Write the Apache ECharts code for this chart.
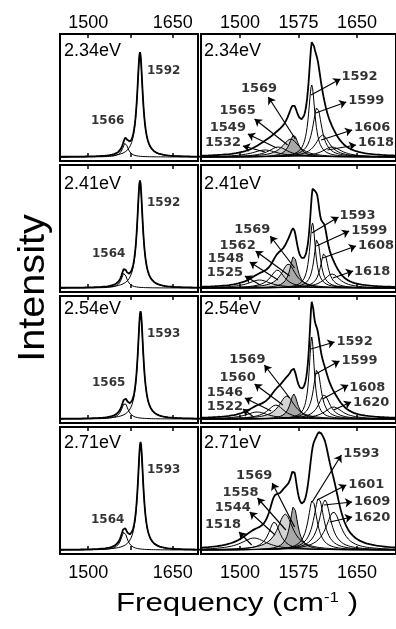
<!DOCTYPE html>
<html>
<head>
<meta charset="utf-8">
<script src="https://cdn.jsdelivr.net/npm/echarts@6/dist/echarts.min.js"></script>
<style>
html, body { margin: 0; padding: 0; background: #fff; }
#chart { width: 396px; height: 629px; }
</style>
</head>
<body>
<div id="chart"></div>
<script>
var energies = ['2.34eV', '2.41eV', '2.54eV', '2.71eV'];
var freqTicks = [1500, 1575, 1650];
var leftTickLabels = [1500, 1650];
var rightTickLabels = [1500, 1575, 1650];

// left column: two lorentzian fits per excitation energy (center, height, fwhm)
var leftCenters = [[1566, 1592], [1564, 1592], [1565, 1593], [1564, 1593]];
var leftHeights = [[14, 104], [15, 107], [16, 107], [18, 107]];
var leftWidths = [[12, 12], [12, 12], [14, 12], [14, 12]];

// right column: eight components, #2 light grey, #3 dark grey
var rightCenters = [
  [1532, 1549, 1565, 1569, 1592, 1599, 1606, 1618],
  [1525, 1548, 1562, 1569, 1593, 1599, 1608, 1618],
  [1522, 1546, 1560, 1569, 1592, 1599, 1608, 1620],
  [1518, 1544, 1558, 1569, 1593, 1601, 1609, 1620]
];
var rightHeights = [
  [7, 10, 18, 22, 72, 50, 22, 10],
  [8, 18, 24, 32, 65, 50, 35, 14],
  [7, 14, 23, 25, 82, 50, 24, 12],
  [12, 28, 36, 44, 50, 52, 50, 38]
];
var rightWidths = [
  [40, 30, 26, 14, 10, 14, 22, 30],
  [35, 22, 22, 12, 9, 10, 12, 25],
  [35, 26, 24, 12, 8, 12, 18, 28],
  [40, 18, 24, 12, 14, 16, 18, 24]
];

// label and arrow placement (layout only): [labelF, labelV, tailF, tailV, headF, headV]
var rightNotes = [
  [[1455, 14, 1532, 5, 1503.75, 11], [1461.25, 29, 1547, 9, 1510, 23], [1473.75, 46, 1561, 12, 1518.75, 38],
   [1501.25, 68, 1571, 18, 1536.25, 60], [1630, 80, 1591, 62, 1628.75, 78], [1638.75, 56, 1597, 44, 1636.25, 55],
   [1646.25, 29, 1604, 17, 1643.75, 27], [1651.25, 14, 1612, 7, 1648.75, 12]],
  [[1457.5, 15, 1526, 3, 1506.25, 12], [1458.75, 29, 1548.75, 8, 1512.5, 26], [1473.75, 42, 1563.75, 12, 1520, 37],
   [1492.5, 58, 1570, 20, 1538.75, 52], [1627.5, 72, 1592, 55, 1626.25, 71], [1642.5, 57, 1598, 42, 1640, 57],
   [1651.25, 42, 1606, 30, 1648.75, 42], [1646.25, 16, 1619, 10, 1645, 17]],
  [[1457.5, 12, 1517.5, 2, 1503.75, 10], [1457.5, 26, 1540, 8, 1506.25, 21], [1473.75, 41, 1555, 14, 1518.75, 35],
   [1486.25, 59, 1563.75, 21, 1531.25, 54], [1623.75, 77, 1591, 70, 1621.25, 77], [1630, 58, 1597, 45, 1627.5, 58],
   [1640, 31, 1606, 20, 1638.75, 34], [1645, 16, 1620, 9, 1642.5, 17]],
  [[1455, 25, 1515, 5, 1498.75, 18], [1467.5, 42, 1545, 15, 1512.5, 38], [1477.5, 57, 1558.75, 20, 1522.5, 52],
   [1495, 74, 1570, 23, 1541.25, 67], [1632.5, 96, 1592.5, 48, 1630, 95], [1638.75, 65, 1599, 50, 1636.25, 65],
   [1646.25, 48, 1607.5, 45, 1643.75, 48], [1646.25, 32, 1615, 28, 1643.75, 33]]
];
var leftNotes = [
  [[1505, 36], [1604.4, 86]],
  [[1506.8, 34], [1604.4, 85]],
  [[1506.8, 36], [1604.4, 85]],
  [[1505, 30], [1604.4, 80]]
];

var rowTops = [34, 165, 296, 427];
var titleTops = [42, 175, 300, 434];
var rowH = 127;

var freq = [];
for (var f = 1450; f <= 1700; f++) freq.push(f);

function lorentz(c, h, w) {
  return freq.map(function (x) {
    var d = (x - c) / (w / 2);
    return h / (1 + d * d);
  });
}

var grids = [], xAxes = [], yAxes = [], series = [], titles = [];

function addPanel(row, col, centers, heights, widths, notes) {
  var g = grids.length;
  grids.push({
    left: col ? 201 : 60, top: rowTops[row], width: col ? 200 : 138, height: rowH,
    show: true, borderColor: '#000', borderWidth: 2, backgroundColor: 'transparent'
  });
  ['bottom', 'top'].forEach(function (pos) {
    var showLab = (pos === 'top' && row === 0) || (pos === 'bottom' && row === 3);
    xAxes.push({
      type: 'value', gridIndex: g, position: pos, min: 1450, max: col ? 1700 : 1695,
      axisLine: { show: false }, splitLine: { show: false },
      axisTick: { show: true, inside: true, length: 4, customValues: freqTicks, lineStyle: { color: '#000', width: 1.5 } },
      axisLabel: {
        show: showLab, customValues: col ? rightTickLabels : leftTickLabels,
        formatter: function (v) { return String(v); },
        margin: pos === 'top' ? 2 : 10, color: '#000', fontSize: 18, fontFamily: 'Liberation Sans'
      }
    });
  });
  yAxes.push({ type: 'value', gridIndex: g, min: -4, max: 123, show: false });
  titles.push({
    text: energies[row], left: col ? 204 : 64, top: titleTops[row], padding: 0,
    textStyle: { fontSize: 18, fontWeight: 'normal', color: '#000', fontFamily: 'Liberation Sans' }
  });

  var total = freq.map(function () { return 0; });
  var comps = centers.map(function (c, i) {
    var ys = lorentz(c, heights[i], widths[i]);
    ys.forEach(function (v, k) { total[k] += v; });
    return ys;
  });
  var order = col ? [2, 3, 0, 1, 4, 5, 6, 7] : [0, 1];
  order.forEach(function (i) {
    var s = {
      type: 'line', xAxisIndex: 2 * g, yAxisIndex: g, showSymbol: false, symbol: 'none',
      data: freq.map(function (x, k) { return [x, comps[i][k]]; }),
      lineStyle: { color: '#000', width: 1 }, silent: true
    };
    if (col && i === 2) s.areaStyle = { color: '#d4d4d4', opacity: 1 };
    if (col && i === 3) s.areaStyle = { color: '#a8a8a8', opacity: 1 };
    series.push(s);
  });
  series.push({
    type: 'line', xAxisIndex: 2 * g, yAxisIndex: g, showSymbol: false, symbol: 'none',
    data: freq.map(function (x, k) { return [x, total[k]]; }),
    lineStyle: { color: '#000', width: 1.8 }, silent: true
  });

  var labelSeries = {
    type: 'scatter', xAxisIndex: 2 * g, yAxisIndex: g, symbolSize: 0, silent: true,
    data: notes.map(function (n, i) { return { name: String(centers[i]), value: [n[0], n[1]] }; }),
    label: {
      show: true, formatter: '{b}', position: 'inside', align: 'left', verticalAlign: 'middle',
      color: '#000', fontSize: col ? 13 : 12, fontWeight: 'bold', fontFamily: 'DejaVu Sans'
    }
  };
  if (col) {
    labelSeries.markLine = {
      silent: true, symbol: ['none', 'arrow'], symbolSize: 7, label: { show: false },
      lineStyle: { color: '#000', width: 1.2, type: 'solid' },
      data: notes.map(function (n) { return [{ coord: [n[2], n[3]] }, { coord: [n[4], n[5]] }]; })
    };
  }
  series.push(labelSeries);
}

for (var r = 0; r < 4; r++) {
  addPanel(r, 0, leftCenters[r], leftHeights[r], leftWidths[r], leftNotes[r]);
  addPanel(r, 1, rightCenters[r], rightHeights[r], rightWidths[r], rightNotes[r]);
}

var chart = echarts.init(document.getElementById('chart'));
chart.setOption({
  animation: false,
  backgroundColor: '#fff',
  title: titles,
  grid: grids,
  xAxis: xAxes,
  yAxis: yAxes,
  series: series,
  graphic: [
    {
      type: 'text', x: 34, y: 288, rotation: Math.PI / 2, scaleX: 1.1,
      style: { text: 'Intensity', fontSize: 36, fontFamily: 'Liberation Sans', fill: '#000',
        align: 'center', verticalAlign: 'middle', textAlign: 'center', textVerticalAlign: 'middle' }
    },
    {
      type: 'text', x: 237, y: 604, scaleX: 1.2,
      style: {
        text: '{a|Frequency (cm}{b|-1}{a| )}', fill: '#000',
        align: 'center', verticalAlign: 'middle', textAlign: 'center', textVerticalAlign: 'middle',
        rich: {
          a: { fontSize: 26, fontFamily: 'Liberation Sans', fill: '#000' },
          b: { fontSize: 14, fontFamily: 'Liberation Sans', fill: '#000', verticalAlign: 'top' }
        }
      }
    }
  ]
});
</script>
</body>
</html>
